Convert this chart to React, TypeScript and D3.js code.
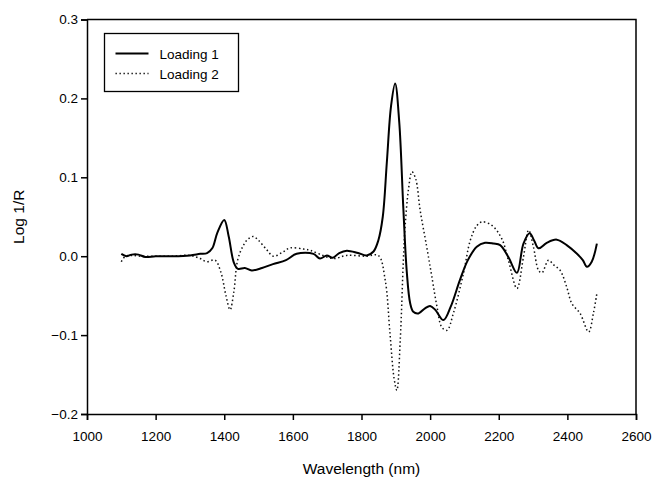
import React, { useRef, useEffect } from 'react';
import * as d3 from 'd3';

// wavelength (nm) / value pairs
const loading1Nm = [1100, 1115, 1130, 1150, 1170, 1200, 1250, 1300, 1330, 1350, 1365, 1380, 1400, 1413, 1428, 1440, 1460, 1480, 1510, 1542, 1580, 1611, 1660, 1679, 1699, 1716, 1735, 1757, 1790, 1815, 1835, 1849, 1862, 1874, 1886, 1898, 1910, 1922, 1932, 1942, 1951, 1966, 1985, 2000, 2015, 2039, 2060, 2087, 2110, 2136, 2160, 2185, 2204, 2228, 2253, 2272, 2290, 2303, 2316, 2340, 2369, 2398, 2428, 2445, 2457, 2471, 2486];
const loading1Val = [0.003, 0.0, 0.002, 0.002, -0.001, 0.0, 0.0, 0.001, 0.003, 0.004, 0.01, 0.03, 0.046, 0.025, -0.008, -0.016, -0.015, -0.018, -0.015, -0.01, -0.005, 0.003, 0.003, -0.003, 0.001, -0.002, 0.004, 0.007, 0.004, 0.001, 0.006, 0.02, 0.05, 0.12, 0.19, 0.219, 0.17, 0.06, -0.02, -0.06, -0.0705, -0.0725, -0.066, -0.063, -0.068, -0.081, -0.064, -0.03, -0.005, 0.012, 0.017, 0.016, 0.014, -0.001, -0.021, 0.016, 0.029, 0.02, 0.01, 0.017, 0.021, 0.014, 0.003, -0.005, -0.0135, -0.007, 0.016];

const loading2Nm = [1100, 1112, 1130, 1155, 1200, 1250, 1300, 1330, 1349, 1373, 1390, 1405, 1417, 1428, 1439, 1456, 1470, 1485, 1500, 1524, 1543, 1570, 1592, 1631, 1650, 1679, 1718, 1757, 1815, 1849, 1869, 1883, 1895, 1903, 1913, 1922, 1927, 1937, 1947, 1958, 1971, 1990, 2005, 2020, 2034, 2049, 2068, 2097, 2117, 2135, 2151, 2180, 2209, 2228, 2253, 2272, 2287, 2301, 2316, 2326, 2345, 2360, 2379, 2398, 2413, 2437, 2462, 2476, 2486];
const loading2Val = [-0.007, 0.0, 0.001, 0.0, 0.0, 0.0, 0.001, -0.003, -0.007, -0.005, -0.02, -0.05, -0.068, -0.045, -0.005, 0.014, 0.022, 0.025, 0.02, 0.008, 0.0, 0.005, 0.0105, 0.009, 0.0075, 0.0025, -0.003, 0.001, 0.0, 0.001, -0.03, -0.098, -0.155, -0.17, -0.106, -0.005, 0.037, 0.085, 0.107, 0.098, 0.058, 0.012, -0.026, -0.064, -0.09, -0.094, -0.072, -0.022, 0.02, 0.038, 0.0435, 0.039, 0.022, -0.005, -0.041, -0.001, 0.033, 0.012, -0.018, -0.021, -0.005, -0.011, -0.018, -0.039, -0.06, -0.0725, -0.096, -0.072, -0.047];

const xTicks = [1000, 1200, 1400, 1600, 1800, 2000, 2200, 2400, 2600];
const yTicks = [-0.2, -0.1, 0.0, 0.1, 0.2, 0.3];
const legendLabels = ['Loading 1', 'Loading 2'];

const W = 654;
const H = 478;
const font = '"Liberation Sans", Arial, sans-serif';

function App() {
  const svgRef = useRef<SVGSVGElement>(null);

  useEffect(() => {
    const left = 87, right = 636, top = 19.5, bottom = 414;
    const x = d3.scaleLinear().domain([1000, 2600]).range([left, right]);
    const y = d3.scaleLinear().domain([-0.2, 0.3]).range([bottom, top]);

    const svg = d3.select(svgRef.current);
    svg.selectAll('*').remove();

    // frame (top and right)
    svg.append('path')
      .attr('d', `M${left},${top}H${right}V${bottom}`)
      .attr('fill', 'none')
      .attr('stroke', '#000')
      .attr('stroke-width', 1.5);

    const axL = svg.append('g')
      .attr('transform', `translate(${left},0)`)
      .call(d3.axisLeft(y).tickValues(yTicks).tickSize(6).tickPadding(3).tickFormat(d3.format('.1f')));
    const axB = svg.append('g')
      .attr('transform', `translate(0,${bottom})`)
      .call(d3.axisBottom(x).tickValues(xTicks).tickSize(6).tickPadding(11).tickFormat(d3.format('d')));

    [axL, axB].forEach(g => {
      g.select('.domain').attr('stroke-width', 1.5);
      g.selectAll('.tick line').attr('stroke-width', 1.5);
      g.selectAll('.tick text')
        .attr('font-family', font)
        .attr('font-size', 13.5)
        .attr('fill', '#000');
    });

    const line = d3.line<[number, number]>()
      .x(d => x(d[0]))
      .y(d => y(d[1]))
      .curve(d3.curveCatmullRom.alpha(0.5));

    const s1 = loading1Nm.map((n, i) => [n, loading1Val[i]] as [number, number]);
    const s2 = loading2Nm.map((n, i) => [n, loading2Val[i]] as [number, number]);

    svg.append('path')
      .attr('d', line(s2))
      .attr('fill', 'none')
      .attr('stroke', '#111')
      .attr('stroke-width', 1.5)
      .attr('stroke-dasharray', '1.5 2.6');

    svg.append('path')
      .attr('d', line(s1))
      .attr('fill', 'none')
      .attr('stroke', '#000')
      .attr('stroke-width', 2);

    // axis titles
    svg.append('text')
      .attr('x', (left + right) / 2)
      .attr('y', 474)
      .attr('text-anchor', 'middle')
      .attr('font-family', font)
      .attr('font-size', 15.5)
      .text('Wavelength (nm)');

    svg.append('text')
      .attr('transform', `translate(24,${(top + bottom) / 2}) rotate(-90)`)
      .attr('text-anchor', 'middle')
      .attr('font-family', font)
      .attr('font-size', 15.5)
      .text('Log 1/R');

    // legend
    const lg = svg.append('g').attr('transform', 'translate(104.5,33.5)');
    lg.append('rect')
      .attr('width', 134)
      .attr('height', 58)
      .attr('fill', '#fff')
      .attr('stroke', '#000')
      .attr('stroke-width', 1.3);
    legendLabels.forEach((lab, i) => {
      const ly = 20 + i * 20;
      lg.append('line')
        .attr('x1', 11).attr('x2', 44)
        .attr('y1', ly).attr('y2', ly)
        .attr('stroke', '#000')
        .attr('stroke-width', i === 0 ? 2 : 1.3)
        .attr('stroke-dasharray', i === 0 ? null : '1.3 2.7');
      lg.append('text')
        .attr('x', 55)
        .attr('y', ly + 5)
        .attr('font-family', font)
        .attr('font-size', 13.5)
        .text(lab);
    });
  }, []);

  return (
    <div style={{ position: 'fixed', left: 0, top: 0, background: '#fff' }}>
      <svg ref={svgRef} width={W} height={H} style={{ display: 'block' }}></svg>
    </div>
  );
}

export default App;
